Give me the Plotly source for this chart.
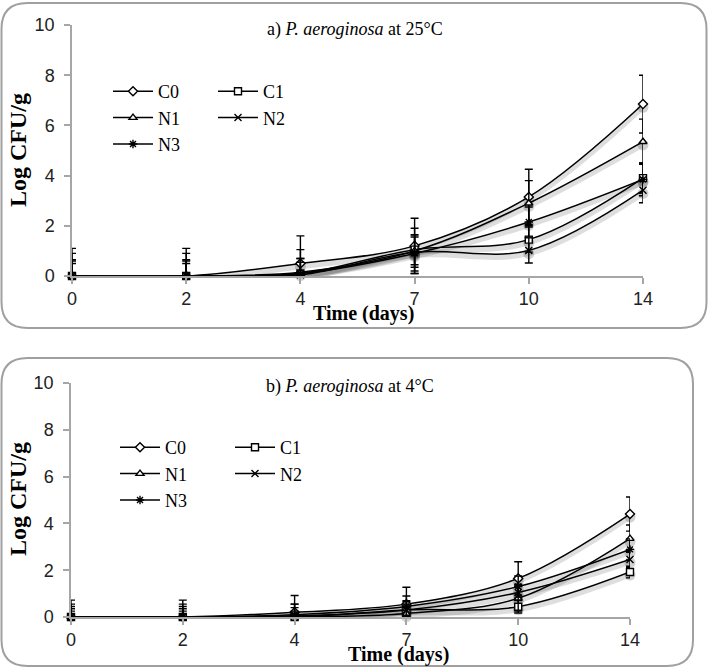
import plotly.graph_objects as go

# ---------------- data ----------------
days = ["0", "2", "4", "7", "10", "14"]
series = ["C0", "C1", "N1", "N2", "N3"]

# a) 25 °C
c0_25 = [0, 0, 0.5, 1.2, 3.15, 6.85]
c1_25 = [0, 0, 0.1, 1.05, 1.45, 3.9]
n1_25 = [0, 0, 0.15, 1.0, 2.9, 5.35]
n2_25 = [0, 0, 0.05, 0.95, 1.02, 3.42]
n3_25 = [0, 0, 0.1, 0.9, 2.15, 3.85]
c0_25_err = [1.1, 1.1, 1.1, 1.1, 1.1, 1.15]
c1_25_err = [0.6, 0.6, 0.6, 0.6, 0.5, 0.6]
n1_25_err = [0.9, 0.9, 0.9, 0.9, 0.9, 0.9]
n2_25_err = [0.5, 0.5, 0.5, 0.6, 0.5, 0.5]
n3_25_err = [0.65, 0.65, 0.6, 0.7, 0.6, 0.65]

# b) 4 °C
c0_4 = [0, 0, 0.2, 0.55, 1.65, 4.4]
c1_4 = [0, 0, 0.0, 0.3, 0.44, 1.92]
n1_4 = [0, 0, 0.0, 0.15, 0.8, 3.35]
n2_4 = [0, 0, 0.05, 0.3, 1.05, 2.46]
n3_4 = [0, 0, 0.1, 0.45, 1.3, 2.89]
c0_4_err = [0.72, 0.72, 0.72, 0.72, 0.71, 0.73]
c1_4_err = [0.25, 0.25, 0.25, 0.25, 0.27, 0.25]
n1_4_err = [0.55, 0.55, 0.55, 0.55, 0.55, 0.58]
n2_4_err = [0.35, 0.35, 0.35, 0.35, 0.35, 0.35]
n3_4_err = [0.45, 0.45, 0.45, 0.45, 0.45, 0.45]

panel_titles = ["a) <i>P. aeroginosa</i> at 25°C", "b) <i>P. aeroginosa</i> at 4°C"]
y_title = "<b>Log CFU/g</b>"
x_title = "<b>Time (days)</b>"

# ---------------- styles ----------------
symbols = {"C0": "diamond", "C1": "square", "N1": "triangle-up",
           "N2": "x-thin", "N3": "asterisk"}
sizes = {"C0": 7, "C1": 7, "N1": 7, "N2": 7, "N3": 7}

W, H = 709, 668
ML, MR, MT, MB = 71, 66, 25, 51
PW, PH = W - ML - MR, H - MT - MB


def px_x(px):
    return (px - ML) / PW


def px_y(py):
    return (H - MB - py) / PH


panels = [
    dict(vals=[c0_25, c1_25, n1_25, n2_25, n3_25],
         errs=[c0_25_err, c1_25_err, n1_25_err, n2_25_err, n3_25_err],
         xa="x", ya="y", dom=[px_y(276), px_y(MT)], xdom=[px_x(72), 1],
         legs=["legend", "legend2"]),
    dict(vals=[c0_4, c1_4, n1_4, n2_4, n3_4],
         errs=[c0_4_err, c1_4_err, n1_4_err, n2_4_err, n3_4_err],
         xa="x2", ya="y2", dom=[px_y(617), px_y(383)], xdom=[0, px_x(630)],
         legs=["legend3", "legend4"]),
]

fig = go.Figure()
col_of = {"C0": 0, "N1": 0, "N3": 0, "C1": 1, "N2": 1}

for p in panels:
    # soft drop shadows under the curves
    for name, vals in zip(series, p["vals"]):
        fig.add_trace(go.Scatter(
            x=days, y=[v - 0.13 for v in vals], xaxis=p["xa"], yaxis=p["ya"],
            mode="lines+markers", line=dict(color="rgba(0,0,0,0.13)", width=5, shape="spline"),
            marker=dict(symbol="circle", size=11, color="rgba(0,0,0,0.18)", line=dict(width=0)),
            showlegend=False, hoverinfo="skip", cliponaxis=False))
    for name, vals, err in zip(series, p["vals"], p["errs"]):
        open_sym = name in ("N2", "N3")
        fig.add_trace(go.Scatter(
            x=days, y=vals, name=name, xaxis=p["xa"], yaxis=p["ya"],
            mode="lines+markers",
            line=dict(color="black", width=1.5, shape="spline"),
            marker=dict(symbol=symbols[name], size=sizes[name],
                        color="black" if open_sym else "white",
                        line=dict(color="black", width=1.4)),
            error_y=dict(type="data", array=err,
                         arrayminus=[min(e, v) for e, v in zip(err, vals)],
                         color="black", thickness=1.4, width=4),
            legend=p["legs"][col_of[name]],
            cliponaxis=False))

axis_common = dict(showline=True, linecolor="#a6a6a6", linewidth=1.5,
                   ticks="outside", tickcolor="#a6a6a6", ticklen=6, tickwidth=1.5,
                   showgrid=False, zeroline=False,
                   tickfont=dict(family="Liberation Sans", size=18, color="#222"))

legend_common = dict(bgcolor="rgba(0,0,0,0)", borderwidth=0,
                     font=dict(family="Liberation Serif", size=18, color="black"),
                     xanchor="left", yanchor="top", itemwidth=40,
                     tracegroupgap=0)

fig.update_layout(
    width=W, height=H, margin=dict(l=ML, r=MR, t=MT, b=MB),
    paper_bgcolor="white", plot_bgcolor="white",
    xaxis=dict(type="category", range=[0, 5], domain=panels[0]["xdom"], anchor="y",
               **axis_common),
    yaxis=dict(range=[0, 10], dtick=2, domain=panels[0]["dom"], anchor="x",
               ticklabelstandoff=6, **axis_common),
    xaxis2=dict(type="category", range=[0, 5], domain=panels[1]["xdom"], anchor="y2",
                **axis_common),
    yaxis2=dict(range=[0, 10], dtick=2, domain=panels[1]["dom"], anchor="x2",
                ticklabelstandoff=6, **axis_common),
    legend=dict(x=px_x(108), y=px_y(73), **legend_common),
    legend2=dict(x=px_x(213), y=px_y(73), **legend_common),
    legend3=dict(x=px_x(115), y=px_y(429), **legend_common),
    legend4=dict(x=px_x(230), y=px_y(429), **legend_common),
)

# titles & axis titles
title_pos = [(355, 29), (350, 386)]
ytitle_pos = [(18, 150), (18, 499)]
xtitle_pos = [(363, 313), (398, 654)]
for i in range(2):
    fig.add_annotation(text=panel_titles[i], xref="paper", yref="paper",
                       x=px_x(title_pos[i][0]), y=px_y(title_pos[i][1]),
                       showarrow=False, xanchor="center", yanchor="middle",
                       font=dict(family="Liberation Serif", size=18, color="black"))
    fig.add_annotation(text=y_title, xref="paper", yref="paper", textangle=-90,
                       x=px_x(ytitle_pos[i][0]), y=px_y(ytitle_pos[i][1]),
                       showarrow=False, xanchor="center", yanchor="middle",
                       font=dict(family="Liberation Serif", size=24, color="black"))
    fig.add_annotation(text=x_title, xref="paper", yref="paper",
                       x=px_x(xtitle_pos[i][0]), y=px_y(xtitle_pos[i][1]),
                       showarrow=False, xanchor="center", yanchor="middle",
                       font=dict(family="Liberation Serif", size=20, color="black"))


def rounded_box(x0, y0, x1, y1, r):
    X0, X1 = px_x(x0), px_x(x1)
    Y0, Y1 = px_y(y0), px_y(y1)
    rx, ry = r / PW, r / PH
    return (f"M{X0 + rx},{Y0} L{X1 - rx},{Y0} Q{X1},{Y0} {X1},{Y0 - ry} "
            f"L{X1},{Y1 + ry} Q{X1},{Y1} {X1 - rx},{Y1} "
            f"L{X0 + rx},{Y1} Q{X0},{Y1} {X0},{Y1 + ry} "
            f"L{X0},{Y0 - ry} Q{X0},{Y0} {X0 + rx},{Y0} Z")


for box in [(1.5, 3, 706.5, 328), (1.5, 358, 693, 666)]:
    fig.add_shape(type="path", xref="paper", yref="paper",
                  path=rounded_box(*box, 26),
                  line=dict(color="#a0a0a0", width=2), layer="below")

fig.write_html("out.html")
